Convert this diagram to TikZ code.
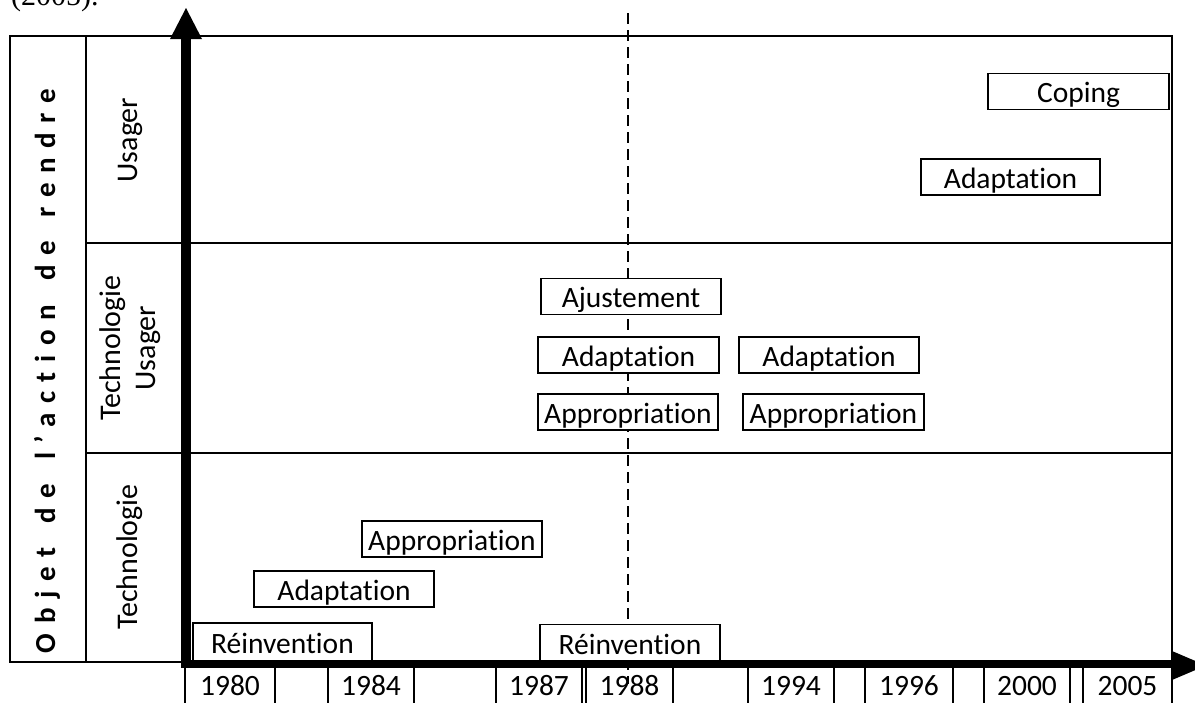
\documentclass[tikz,border=0pt]{standalone}
\usepackage{fontspec}
\setmainfont{Carlito}[RawFeature=-liga]
\newfontfamily\refserif{Liberation Serif}
\newfontfamily\objfont{Carlito}[LetterSpace=33,RawFeature=-liga]
\newcommand\objgap{\hspace{8pt}}
\begin{document}
\begin{tikzpicture}[x=1pt,y=-1pt,
  rowlbl/.style={font=\fontsize{30}{35}\selectfont, align=center, rotate=90, inner sep=0pt},
  evbox/.style={draw, line width=1.8pt, fill=white, inner sep=0pt, minimum height=36pt, minimum width=180pt, text height=26pt, text depth=4pt, font=\fontsize{29.5}{34}\selectfont},
  yearbox/.style={draw, line width=1.8pt, inner sep=0pt, minimum height=46pt, text height=18pt, text depth=8pt, font=\fontsize{29.5}{34}\selectfont},
  frameline/.style={line width=2pt},
  dashline/.style={line width=2pt, dash pattern=on 11pt off 6pt},
]
\clip (0,0) rectangle (1195,702);
\useasboundingbox (0,0) rectangle (1195,702);

% partial caption text at the top
\node[anchor=base west, inner sep=0pt, font=\refserif\fontsize{30}{36}\selectfont] (cap) at (11,5) {(2005).};

% frame
\draw[frameline] (10,36) rectangle (1172,662);
\draw[frameline] (86,36) -- (86,662);
\draw[frameline] (86,243) -- (1172,243);
\draw[frameline] (86,453) -- (1172,453);

% left labels
\node[rotate=90, inner sep=0pt, font=\objfont\bfseries\fontsize{29}{34}\selectfont] (objet) at (47,371) {Objet \objgap de \objgap l’action \objgap de \objgap rendre};
\node[rowlbl] (rU) at (130,140) {Usager};
\node[rowlbl] (rTU) at (130,348) {Technologie\\Usager};
\node[rowlbl] (rT) at (130,557) {Technologie};

% dashed line 1988
\coordinate (dtop) at (628,13);
\coordinate (dbot) at (628,684);
\draw[dashline] (dtop) -- (dbot);

% event boxes
\node[evbox, minimum width=181pt] (coping) at (1078.5,91.5) {Coping};
\node[evbox, minimum width=179pt] (adaptU) at (1010.5,177) {Adaptation};
\node[evbox] (ajust) at (631,296.5) {Ajustement};
\node[evbox, minimum width=181pt] (adaptL) at (628.5,355) {Adaptation};
\node[evbox] (adaptR) at (829,355) {Adaptation};
\node[evbox] (approL) at (628,412) {Appropriation};
\node[evbox, minimum width=181pt] (approR) at (833.5,412) {Appropriation};
\node[evbox] (approT) at (452,539) {Appropriation};
\node[evbox] (adaptT) at (344,589) {Adaptation};
\node[evbox, minimum width=179pt, minimum height=38pt] (reinvL) at (282.5,642) {Réinvention};
\node[evbox, minimum height=37pt] (reinvR) at (630,643) {Réinvention};

% axes
\coordinate (origin) at (186,664);
\fill (181,668) rectangle (191,39);
\fill (170,39) -- (202,39) -- (186,8) -- cycle;
\fill (181,660) rectangle (1172,668);
\fill (1172,651) -- (1172,680) -- (1206,665.5) -- cycle;

% years
\node[yearbox, minimum width=90pt] (y1980) at (230,690) {1980};
\node[yearbox, minimum width=86pt] (y1984) at (371,690) {1984};
\node[yearbox, minimum width=86pt] (y1987) at (539,690) {1987};
\node[yearbox, minimum width=87pt] (y1988) at (629.5,690) {1988};
\node[yearbox, minimum width=86pt] (y1994) at (791,690) {1994};
\node[yearbox, minimum width=88pt] (y1996) at (909,690) {1996};
\node[yearbox, minimum width=86pt] (y2000) at (1027,690) {2000};
\node[yearbox, minimum width=89pt] (y2005) at (1127.5,690) {2005};
\end{tikzpicture}
\end{document}
